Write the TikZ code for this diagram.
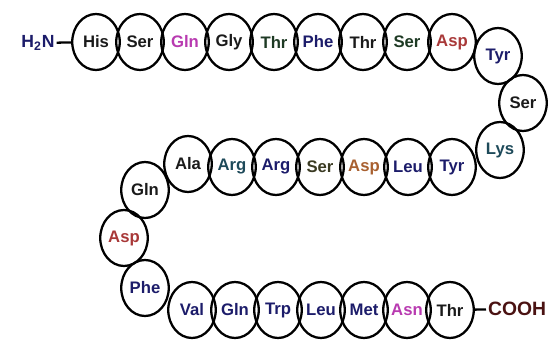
\documentclass[tikz,border=0pt]{standalone}
\usepackage{fontspec}
\setmainfont{Liberation Sans}
\usepackage{xcolor}
\usepackage{tikz}
\usetikzlibrary{shapes.geometric, positioning}
\definecolor{resblack}{HTML}{1A1A1A}
\definecolor{resnavy}{HTML}{1C1C6A}
\definecolor{resteal}{HTML}{1E4A5A}
\definecolor{resmagenta}{HTML}{B83AB0}
\definecolor{resred}{HTML}{A83838}
\definecolor{resbrown}{HTML}{A86030}
\definecolor{resolive}{HTML}{3A3A22}
\definecolor{resgreen}{HTML}{1E3A24}
\definecolor{termred}{HTML}{4A1212}

\begin{document}
\begin{tikzpicture}[
    x=0.02cm, y=0.02cm,
    res/.style={ellipse, draw=black, line width=1.3pt, minimum width=0.95cm,
                minimum height=1.12cm, inner sep=0pt, text=#1,
                font=\fontsize{9.5}{10}\selectfont\bfseries},
    term/.style={inner sep=1pt, text=#1, font=\fontsize{10}{11}\selectfont\bfseries},
    bond/.style={line width=1.3pt}
]
    \useasboundingbox (0,0) rectangle (549,339);
    \node[term=resnavy] (nterm) at (38,296) {H\textsubscript{2}N};
    \node[res=resblack] (his1) at (96,297) {His};
    \node[res=resblack] (ser2) at (140,297) {Ser};
    \node[res=resmagenta] (gln3) at (185,297) {Gln};
    \node[res=resblack] (gly4) at (229,297) {Gly};
    \node[res=resgreen] (thr5) at (274,297) {Thr};
    \node[res=resnavy] (phe6) at (318,297) {Phe};
    \node[res=resblack] (thr7) at (363,297) {Thr};
    \node[res=resgreen] (ser8) at (407,297) {Ser};
    \node[res=resred] (asp9) at (452,297) {Asp};
    \node[res=resnavy] (tyr10) at (498,283) {Tyr};
    \node[res=resblack] (ser11) at (523,236) {Ser};
    \node[res=resteal] (lys12) at (500,189) {Lys};
    \node[res=resnavy] (tyr13) at (452,172) {Tyr};
    \node[res=resnavy] (leu14) at (408,172) {Leu};
    \node[res=resbrown] (asp15) at (364,172) {Asp};
    \node[res=resolive] (ser16) at (320,172) {Ser};
    \node[res=resnavy] (arg17) at (276,172) {Arg};
    \node[res=resteal] (arg18) at (232,172) {Arg};
    \node[res=resblack] (ala19) at (188,175) {Ala};
    \node[res=resblack] (gln20) at (145,149) {Gln};
    \node[res=resred] (asp21) at (124,101) {Asp};
    \node[res=resnavy] (phe22) at (145,51) {Phe};
    \node[res=resnavy] (val23) at (192,29) {Val};
    \node[res=resnavy] (gln24) at (235,29) {Gln};
    \node[res=resnavy] (trp25) at (278,29) {Trp};
    \node[res=resnavy] (leu26) at (321,29) {Leu};
    \node[res=resnavy] (met27) at (364,29) {Met};
    \node[res=resmagenta] (asn28) at (407,29) {Asn};
    \node[res=resblack] (thr29) at (450,29) {Thr};
    \node[term=termred, anchor=west, font=\fontsize{11}{12}\selectfont\bfseries] (cterm) at (486,30) {COOH};
    \draw[bond] (nterm) -- (his1);
    \draw[bond] (thr29) -- (cterm);
\end{tikzpicture}
\end{document}
